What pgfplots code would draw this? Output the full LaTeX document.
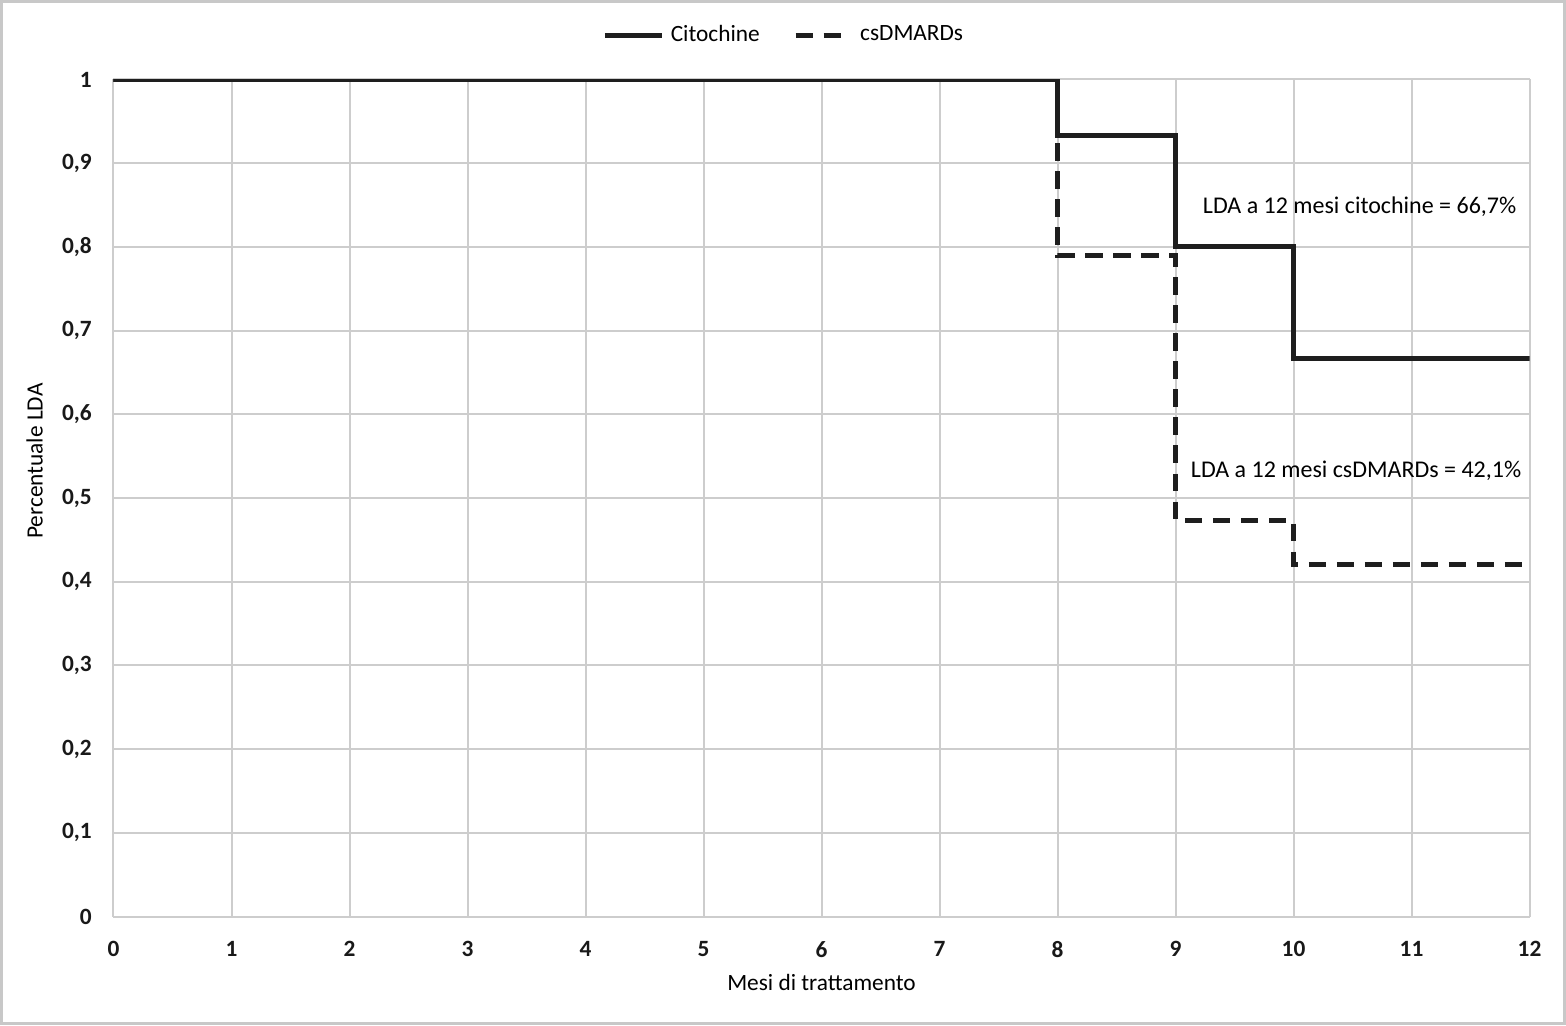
\documentclass[border=0pt]{standalone}
\usepackage{fontspec}
\setmainfont{Carlito}
\usepackage{pgfplots}
\pgfplotsset{compat=1.18}

\definecolor{gridgray}{RGB}{205,205,205}
\definecolor{framegray}{RGB}{200,200,200}
\definecolor{curve}{RGB}{30,30,30}

\pgfplotsset{
  long legend/.style={legend image code/.code={\draw[##1] (0pt,0pt) -- (17pt,0pt);}},
  short legend/.style={legend image code/.code={\draw[##1] (0pt,0pt) -- (13.6pt,0pt);}},
}

\begin{document}
\begin{tikzpicture}
\begin{axis}[
name=ax,
scale only axis,
width=424.8pt,
height=251.1pt,
xmin=0, xmax=12,
ymin=0, ymax=1,
xtick={0,1,...,12},
ytick={0,0.1,...,1},
grid=major,
major grid style={gridgray, line width=0.6pt},
axis line style={gridgray, line width=0.6pt},
axis x line*=bottom,
axis y line*=left,
major tick length=0pt,
tick style={draw=none},
/pgf/number format/assume math mode=true,
/pgf/number format/.cd, use comma, fixed, precision=1,
/pgfplots/.cd,
ticklabel style={font=\fontsize{7}{8}\selectfont\bfseries, text=black!90},
xticklabel style={yshift=-4pt},
yticklabel style={xshift=-3pt},
xlabel={Mesi di trattamento},
ylabel={Percentuale LDA},
every axis x label/.style={at={(axis description cs:0.5,0)}, anchor=center, yshift=-19.8pt,
  font=\fontsize{7}{8}\selectfont, text=black},
every axis y label/.style={at={(axis description cs:0,0.544)}, anchor=center, rotate=90, yshift=23.7pt,
  font=\fontsize{7}{8}\selectfont, text=black},
legend columns=2,
legend style={draw=none, fill=none, at={(axis description cs:0.475,1.052)}, anchor=center,
  font=\fontsize{7}{8}\selectfont, text=black,
  /tikz/every even column/.append style={column sep=8pt}},
]
\addplot[const plot, curve, line width=1.5pt, long legend] coordinates {
(0,1) (8,0.9333) (9,0.8) (10,0.6667) (12,0.6667)
};
\addlegendentry{Citochine}
\addplot[const plot, curve, line width=1.5pt, dash pattern=on 5.2pt off 3.2pt, short legend] coordinates {
(0,1) (8,0.7895) (9,0.4737) (10,0.4211) (12,0.4211)
};
\addlegendentry{\hspace{3pt}csDMARDs}
\node[font=\fontsize{7.2}{8}\selectfont, text=black] at (axis cs:10.56,0.848) {LDA a 12 mesi citochine = 66,7\%};
\node[font=\fontsize{7.2}{8}\selectfont, text=black] at (axis cs:10.53,0.532) {LDA a 12 mesi csDMARDs = 42,1\%};
\end{axis}
\draw[framegray, line width=0.9pt] ([shift={(-33.6pt,-32.1pt)}]ax.south west) rectangle ([shift={(10.5pt,23.4pt)}]ax.north east);
\end{tikzpicture}
\end{document}
